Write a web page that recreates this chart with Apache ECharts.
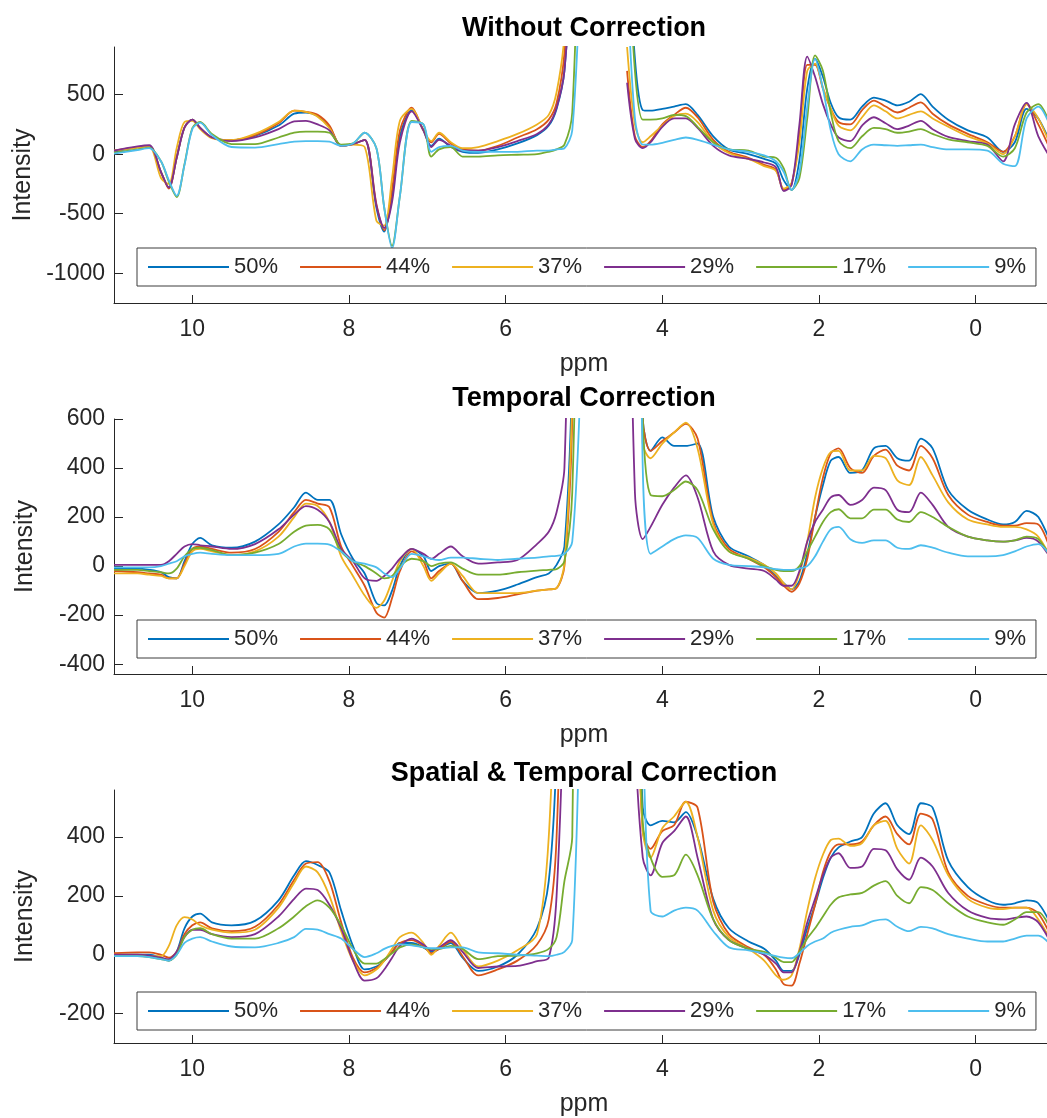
<!DOCTYPE html>
<html>
<head>
<meta charset="utf-8">
<script src="https://cdn.jsdelivr.net/npm/echarts@6/dist/echarts.min.js"></script>
<style>
  html, body { margin: 0; padding: 0; background: #fff; overflow: hidden; }
  #chart { width: 1168px; height: 1118px; }
</style>
</head>
<body>
<div id="chart"></div>
<script>
// chemical shift grid (ppm), shared by all three panels; 4.75 is the clipped water peak
var ppm = [
  11.0, 10.7, 10.55, 10.4, 10.3, 10.2, 10.1, 10.0, 9.9, 9.75,
  9.5, 9.2, 8.9, 8.7, 8.55, 8.4, 8.25, 8.1, 7.95, 7.8,
  7.65, 7.55, 7.45, 7.35, 7.2, 7.05, 6.95, 6.85, 6.7, 6.55,
  6.35, 6.1, 5.85, 5.6, 5.45, 5.35, 5.25, 5.15, 5.05,
  4.75,
  4.45, 4.35, 4.25, 4.15, 4.0, 3.85, 3.7, 3.55, 3.35, 3.15,
  2.9, 2.7, 2.55, 2.45, 2.35, 2.25, 2.15, 2.05, 1.95, 1.85,
  1.75, 1.6, 1.45, 1.3, 1.15, 1.0, 0.85, 0.7, 0.55, 0.35,
  0.1, -0.15, -0.35, -0.5, -0.65, -0.8, -1.0
];

var levels = ['50%', '44%', '37%', '29%', '17%', '9%'];
var xTicks = [0, 2, 4, 6, 8, 10];
var yTicksRaw = [-1000, -500, 0, 500];
var yTicksTmp = [-400, -200, 0, 200, 400, 600];
var yTicksSpt = [-200, 0, 200, 400];

// Without Correction
var raw50 = [20, 60, 70, -150, -280, -30, 224, 290, 220, 140,
  117, 154, 240, 340, 350, 320, 230, 70, 85, 120,
  -450, -650, -350, 150, 370, 200, 70, 130, 60, 20,
  10, 40, 90, 160, 240, 380, 700, 1800, 4000,
  null,
  2000, 800, 370, 365, 380, 400, 420, 330, 150, 40,
  0, -40, -80, -220, -300, -50, 550, 800, 650, 430,
  310, 290, 400, 475, 450, 410, 440, 505, 400, 290,
  200, 140, 20, 100, 380, 300, 20];
var raw44 = [30, 60, 70, -150, -290, -30, 224, 290, 220, 140,
  117, 160, 260, 365, 355, 330, 240, 70, 85, 120,
  -420, -640, -300, 200, 390, 200, 100, 170, 90, 40,
  30, 70, 140, 210, 290, 430, 850, 2000, 4000,
  null,
  700, 150, 60, 110, 250, 330, 390, 310, 120, 20,
  -30, -90, -130, -300, -250, 150, 750, 750, 550, 380,
  270, 250, 370, 450, 400, 350, 390, 435, 340, 250,
  170, 100, 20, 150, 420, 250, -30];
var raw37 = [30, 55, 65, -200, -250, 50, 270, 280, 210, 135,
  117, 170, 270, 365, 355, 315, 220, 70, 80, 60,
  -560, -600, -200, 280, 380, 200, 110, 180, 100, 50,
  60, 110, 170, 250, 330, 520, 1000, 2500, 4000,
  null,
  900, 250, 100, 150, 240, 320, 340, 270, 100, 10,
  -40, -100, -140, -290, -240, 100, 700, 760, 560, 380,
  240, 200, 310, 410, 360, 300, 330, 360, 300, 230,
  150, 90, 0, 150, 420, 300, 0];
var raw29 = [30, 65, 75, -150, -280, -30, 224, 290, 220, 140,
  110, 140, 210, 275, 280, 250, 200, 70, 85, 120,
  -430, -620, -400, 100, 360, 200, 60, 120, 70, 30,
  30, 60, 110, 170, 250, 390, 700, 1800, 4000,
  null,
  600, 130, 50, 100, 230, 300, 300, 220, 70, -10,
  -40, -70, -110, -310, -260, 250, 820, 650, 420, 250,
  140, 110, 240, 310, 260, 210, 240, 280, 210, 145,
  110, 80, -60, 250, 430, 150, -80];
var raw17 = [10, 40, 55, -60, -230, -360, -85, 220, 270, 170,
  85, 84, 140, 180, 190, 190, 180, 80, 90, 180,
  50, -450, -770, -350, 280, 250, -20, 40, 60, -20,
  -20, -10, -5, 0, 20, 40, 80, 350, 2500,
  null,
  2000, 700, 290, 290, 300, 330, 320, 230, 100, 40,
  30, -20, -30, -120, -300, -200, 300, 830, 700, 350,
  110, 50, 150, 220, 210, 180, 190, 210, 170, 125,
  100, 70, -20, 50, 350, 420, 150];
var raw09 = [5, 35, 50, -60, -220, -350, -90, 210, 265, 160,
  60, 55, 84, 105, 110, 110, 105, 70, 90, 180,
  50, -450, -790, -350, 270, 250, 20, 60, 70, 30,
  20, 20, 20, 30, 30, 40, 50, 200, 1500,
  null,
  1500, 300, 80, 80, 95, 120, 140, 120, 80, 40,
  20, -10, -60, -150, -300, -150, 400, 800, 550, 200,
  0, -60, 40, 80, 75, 70, 75, 80, 60, 40,
  40, 30, -80, -100, 300, 400, 150];

// Temporal Correction
var tmp50 = [-10, -10, -15, -25, -45, -50, 20, 90, 115, 85,
  75, 100, 170, 240, 300, 270, 270, 130, 30, -30,
  -150, -160, -100, 0, 70, 40, -20, 0, 10, -60,
  -110, -100, -75, -45, -30, 5, 80, 800, 3000,
  null,
  3000, 2000, 600, 470, 525, 490, 490, 500, 200, 80,
  40, 5, -40, -70, -95, -60, 50, 200, 330, 430,
  445, 380, 390, 480, 490, 440, 430, 520, 480, 310,
  230, 190, 170, 180, 225, 200, 60];
var tmp44 = [-20, -25, -30, -35, -50, -50, 10, 70, 80, 70,
  55, 70, 140, 220, 270, 255, 240, 80, 0, -80,
  -190, -210, -130, -20, 60, 20, -50, -20, 10, -60,
  -135, -130, -115, -100, -95, -90, 0, 600, 3000,
  null,
  3000, 2000, 600, 470, 510, 545, 580, 520, 180, 70,
  30, -5, -45, -80, -105, -70, 30, 200, 360, 460,
  480, 400, 380, 450, 475, 410, 390, 490, 440, 290,
  210, 180, 165, 165, 175, 170, 20];
var tmp37 = [-30, -30, -35, -40, -50, -50, 0, 60, 70, 60,
  45, 60, 120, 200, 255, 245, 180, 40, -40, -120,
  -170, -140, -60, 20, 70, 0, -60, -30, 10, -40,
  -110, -110, -110, -100, -95, -90, 10, 700, 3000,
  null,
  3000, 2000, 500, 440, 500, 545, 585, 480, 170, 60,
  35, 5, -30, -70, -95, -30, 100, 280, 400, 465,
  470, 390, 390, 450, 440, 350, 330, 445, 370, 260,
  190, 170, 160, 160, 150, 120, 10];
var tmp29 = [5, 5, 5, 5, 20, 50, 80, 90, 85, 80,
  70, 90, 150, 210, 245, 230, 180, 70, 20, -50,
  -60, -40, -10, 30, 70, 50, 30, 50, 80, 40,
  10, 15, 25, 90, 140, 220, 400, 2000, 4000,
  null,
  2000, 300, 110, 160, 250, 320, 370, 280, 60, 5,
  -10, -20, -55, -80, -80, -20, 100, 180, 230, 280,
  290, 250, 270, 320, 310, 230, 220, 300, 250, 160,
  120, 105, 100, 105, 115, 100, 10];
var tmp17 = [-15, -15, -20, -25, -30, -10, 40, 70, 75, 65,
  45, 55, 90, 140, 165, 168, 150, 60, 20, 0,
  -30, -50, -40, 0, 30, 20, 0, 10, 15, -10,
  -35, -35, -25, -18, -15, -12, 20, 300, 2000,
  null,
  3000, 2000, 600, 290, 285, 310, 345, 310, 150, 60,
  30, 0, -15, -20, -20, 0, 60, 120, 180, 220,
  232, 195, 195, 230, 230, 190, 180, 220, 200, 160,
  120, 105, 100, 105, 120, 110, 10];
var tmp09 = [-5, -5, -5, 0, 10, 20, 40, 50, 55, 50,
  45, 45, 50, 80, 92, 92, 88, 60, 20, 10,
  -5, -30, -45, -10, 50, 40, 30, 25, 35, 35,
  30, 25, 30, 35, 40, 42, 50, 100, 700,
  null,
  3000, 3000, 400, 50, 80, 110, 125, 115, 30, 5,
  0, -5, -12, -15, -15, -10, 0, 40, 100, 150,
  160, 110, 95, 105, 105, 75, 70, 85, 75, 55,
  40, 40, 45, 60, 80, 90, 20];

// Spatial & Temporal Correction
var spt50 = [0, 0, 0, -10, -20, 10, 90, 130, 140, 110,
  100, 115, 185, 270, 318, 305, 280, 150, 30, -50,
  -40, -20, 10, 40, 40, 25, 10, 20, 40, -10,
  -55, -40, 0, 90, 250, 700, 2000, 4000, 5000,
  null,
  3000, 1500, 500, 440, 455, 450, 485, 400, 190, 90,
  45, 20, -20, -55, -55, 0, 90, 170, 260, 330,
  365, 385, 400, 480, 515, 440, 410, 515, 500, 320,
  230, 185, 170, 175, 185, 175, 80];
var spt44 = [5, 8, 8, 0, -10, 10, 70, 100, 110, 90,
  80, 95, 170, 255, 310, 315, 250, 110, -10, -60,
  -45, -20, 10, 40, 50, 30, 5, 20, 45, -5,
  -70, -50, -20, 35, 120, 400, 1500, 4000, 5000,
  null,
  3000, 1200, 420, 360, 420, 440, 520, 500, 180, 70,
  25, 0, -50, -100, -105, -30, 70, 170, 280, 350,
  375, 375, 385, 440, 470, 410, 375, 480, 460, 280,
  200, 170, 160, 160, 160, 140, 40];
var spt37 = [0, 0, -5, -5, 30, 100, 128, 120, 100, 85,
  75, 85, 160, 245, 300, 280, 200, 80, -20, -70,
  -50, -20, 20, 60, 75, 40, 0, 30, 75, 20,
  -40, -20, 15, 70, 400, 1200, 3000, 4000, 5000,
  null,
  3000, 1200, 420, 330, 430, 470, 520, 400, 150, 60,
  20, -20, -70, -85, -70, 20, 150, 260, 340, 390,
  395, 370, 380, 440, 455, 360, 310, 440, 390, 270,
  190, 160, 155, 160, 160, 120, 30];
var spt29 = [0, 0, -3, -10, -15, 10, 60, 85, 85, 70,
  60, 70, 130, 190, 225, 220, 170, 90, -20, -88,
  -80, -50, -10, 30, 55, 35, 15, 25, 50, 10,
  -45, -40, -38, -22, -10, 200, 1000, 3000, 5000,
  null,
  3000, 800, 330, 270, 380, 420, 470, 330, 120, 50,
  20, 0, -30, -60, -60, 10, 110, 190, 270, 330,
  345, 295, 300, 360, 355, 290, 255, 330, 300, 210,
  150, 125, 120, 125, 130, 110, 20];
var spt17 = [-5, -5, -8, -15, -20, 0, 60, 85, 90, 70,
  55, 55, 90, 130, 165, 185, 160, 100, 20, -30,
  -30, -15, 5, 25, 35, 25, 20, 20, 30, 20,
  -15, -5, -3, 5, 20, 60, 250, 400, 3000,
  null,
  3000, 1500, 450, 330, 265, 270, 340, 270, 120, 50,
  20, 10, -10, -25, -25, 10, 55, 90, 130, 170,
  195, 205, 210, 235, 250, 200, 175, 230, 220, 175,
  130, 110, 102, 120, 145, 145, 60];
var spt09 = [-5, -5, -8, -15, -20, 0, 40, 55, 60, 45,
  28, 25, 40, 60, 88, 85, 70, 55, 20, -8,
  5, 20, 30, 35, 32, 25, 22, 22, 25, 25,
  8, 5, 0, -3, -5, 0, 10, 50, 900,
  null,
  3000, 2000, 800, 150, 130, 150, 160, 150, 80, 25,
  15, 5, -5, -10, -12, 5, 30, 45, 55, 75,
  85, 95, 100, 115, 120, 95, 80, 95, 90, 70,
  55, 45, 45, 55, 65, 65, 20];

var colors = ['#0072BD', '#D95319', '#EDB120', '#7E2F8E', '#77AC30', '#4DBEEE'];
var ink = '#262626';

var panels = [
  { title: 'Without Correction', top: 47, height: 256, min: -1250, max: 900, ticks: yTicksRaw,
    titleTop: 15, legendTop: 248, lines: [raw50, raw44, raw37, raw29, raw17, raw09] },
  { title: 'Temporal Correction', top: 419, height: 255, min: -440, max: 600, ticks: yTicksTmp,
    titleTop: 385, legendTop: 620, lines: [tmp50, tmp44, tmp37, tmp29, tmp17, tmp09] },
  { title: 'Spatial & Temporal Correction', top: 790, height: 255, min: -300, max: 560, ticks: yTicksSpt,
    titleTop: 760, legendTop: 992, lines: [spt50, spt44, spt37, spt29, spt17, spt09] }
];

var option = {
  animation: false,
  backgroundColor: '#fff',
  textStyle: { fontFamily: 'Liberation Sans, Arial, sans-serif' },
  title: [], grid: [], xAxis: [], yAxis: [], legend: [], series: []
};

panels.forEach(function (p, k) {
  option.title.push({
    text: p.title, left: 'center', top: p.titleTop, padding: 0,
    textStyle: { fontSize: 27, fontWeight: 'bold', color: '#000' }
  });
  option.grid.push({ left: 114, right: 114, top: p.top, height: p.height });
  option.xAxis.push({
    type: 'value', gridIndex: k, min: -1, max: 11, inverse: true,
    name: 'ppm', nameLocation: 'middle', nameGap: 49,
    nameTextStyle: { fontSize: 25, color: ink },
    axisLine: { show: true, onZero: false, lineStyle: { color: ink, width: 1 } },
    axisTick: { show: true, inside: true, length: 8, customValues: xTicks, lineStyle: { color: ink } },
    axisLabel: { customValues: xTicks, fontSize: 23, color: ink, margin: 15 },
    splitLine: { show: false }
  });
  option.yAxis.push({
    type: 'value', gridIndex: k, min: p.min, max: p.max,
    name: 'Intensity', nameLocation: 'middle', nameRotate: 90, nameGap: 76,
    nameTextStyle: { fontSize: 25, color: ink },
    axisLine: { show: true, onZero: false, lineStyle: { color: ink, width: 1 } },
    axisTick: { show: true, inside: true, length: 9, customValues: p.ticks, lineStyle: { color: ink } },
    axisLabel: { customValues: p.ticks, fontSize: 23, color: ink, margin: 9,
      formatter: function (v) { return String(v); } },
    splitLine: { show: false }
  });
  option.legend.push({
    data: levels, left: 137, top: p.legendTop, orient: 'horizontal',
    itemWidth: 81, itemHeight: 20, itemGap: 21,
    padding: [8, 10, 8, 10],
    borderColor: '#3c3c3c', borderWidth: 1, backgroundColor: '#fff',
    itemStyle: { opacity: 0 },
    lineStyle: { width: 2 },
    textStyle: { fontSize: 22, color: ink },
    selectedMode: false
  });
  p.lines.forEach(function (vals, i) {
    option.series.push({
      name: levels[i], type: 'line', xAxisIndex: k, yAxisIndex: k,
      data: ppm.map(function (x, j) { return [x, vals[j]]; }),
      symbol: 'none', smooth: 0.3, connectNulls: false,
      lineStyle: { color: colors[i], width: 1.8 },
      itemStyle: { color: colors[i] },
      z: 2
    });
  });
});

var chart = echarts.init(document.getElementById('chart'));
chart.setOption(option);
</script>
</body>
</html>
